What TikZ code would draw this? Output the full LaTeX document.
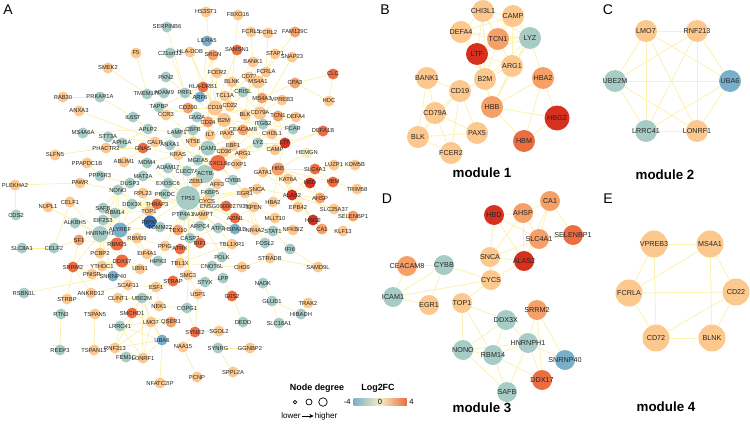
\documentclass[tikz,border=0pt]{standalone}
\usepackage{fontspec}
\setmainfont{Liberation Sans}
\usetikzlibrary{backgrounds,arrows.meta}

\definecolor{upa}{HTML}{FCC88E}
\definecolor{upb}{HTML}{F6A068}
\definecolor{upc}{HTML}{EC6D42}
\definecolor{upd}{HTML}{D8301F}
\definecolor{dna}{HTML}{A6CCC5}
\definecolor{dnb}{HTML}{7AAFCA}
\definecolor{dnc}{HTML}{3368AF}
\definecolor{pale}{HTML}{F4EFC2}
\definecolor{linkcol}{HTML}{F9EFA3}
\definecolor{mlinkcol}{HTML}{FBF3B4}

\begin{document}
\begin{tikzpicture}[x=0.02cm, y=-0.02cm,
    gene/.style = {circle, inner sep=0pt, minimum size=0.22cm},
    mod/.style = {circle, inner sep=0pt, minimum size=0.44cm},
    lab/.style = {inner sep=0pt, text=black!85, font=\fontsize{3.3}{3.5}\selectfont},
    mlab/.style = {inner sep=0pt, text=black!85, font=\fontsize{4.1}{4.5}\selectfont},
    link/.style = {draw=linkcol, line width=0.35pt},
    mlink/.style = {draw=mlinkcol, line width=0.5pt},
    panel/.style = {font=\fontsize{8}{8}\selectfont, inner sep=0pt},
    title/.style = {font=\fontsize{7.6}{8}\selectfont\bfseries, inner sep=0pt}]

    \useasboundingbox (0,0) rectangle (750,423);

    % 1. Panel A - whole network
    \node[panel] (pA) at (8,10) {A};
    \node[gene, fill=dna, label={[lab]center:SERPINB6}] (SERPINB6) at (167,27) {};
    \node[gene, fill=upa, label={[lab]center:HS3ST1}] (HS3ST1) at (206,12) {};
    \node[gene, fill=upa, label={[lab]center:FBXO16}] (FBXO16) at (238,15) {};
    \node[gene, fill=upa, label={[lab]center:FCRL5}] (FCRL5) at (251,32) {};
    \node[gene, fill=upa, label={[lab]center:FCRL2}] (FCRL2) at (268,33) {};
    \node[gene, fill=upb, label={[lab]center:FAM129C}] (FAM129C) at (295,32) {};
    \node[gene, fill=dnb, label={[lab]center:LILRA5}] (LILRA5) at (207,41) {};
    \node[gene, fill=upc, label={[lab]center:SAMSN1}] (SAMSN1) at (237,50) {};
    \node[gene, fill=upa, label={[lab]center:F5}] (F5) at (136,53) {};
    \node[gene, fill=dna, label={[lab]center:C21orf33}] (C21orf33) at (170,53) {};
    \node[gene, fill=upa, label={[lab]center:HLA-DOB}] (HLADOB) at (190,52) {};
    \node[gene, fill=upb, label={[lab]center:SRGN}] (SRGN) at (213,55) {};
    \node[gene, fill=upa, label={[lab]center:STAP1}] (STAP1) at (275,54) {};
    \node[gene, fill=upa, label={[lab]center:SNAP23}] (SNAP23) at (292,57) {};
    \node[gene, fill=upa, label={[lab]center:BANK1}] (BANK1) at (253,62) {};
    \node[gene, fill=upa, label={[lab]center:SMEK2}] (SMEK2) at (108,68) {};
    \node[gene, fill=upa, label={[lab]center:FCER2}] (FCER2) at (217,73) {};
    \node[gene, fill=upa, label={[lab]center:CD72}] (CD72) at (249,77) {};
    \node[gene, fill=upa, label={[lab]center:FCRLA}] (FCRLA) at (266,72) {};
    \node[gene, fill=upc, label={[lab]center:CLC}] (CLC) at (333,74) {};
    \node[gene, fill=dna, label={[lab]center:PKN2}] (PKN2) at (166,77) {};
    \node[gene, fill=upa, label={[lab]center:BLNK}] (BLNK) at (232,82) {};
    \node[gene, fill=upa, minimum size=0.26cm, label={[lab]center:MS4A1}] (MS4A1) at (258,82) {};
    \node[gene, fill=upb, label={[lab]center:CPA3}] (CPA3) at (295,83) {};
    \node[gene, fill=upc, label={[lab]center:HLA-DRB1}] (HLADRB1) at (203,87) {};
    \node[gene, fill=dna, label={[lab]center:PRF1}] (PRF1) at (185,93) {};
    \node[gene, fill=dna, label={[lab]center:TMEM175}] (TMEM175) at (147,94) {};
    \node[gene, fill=dna, label={[lab]center:ADAM9}] (ADAM9) at (164,93) {};
    \node[gene, fill=upa, label={[lab]center:RAB30}] (RAB30) at (63,97) {};
    \node[gene, fill=dna, label={[lab]center:PRKAR1A}] (PRKAR1A) at (100,97) {};
    \node[gene, fill=dnb, label={[lab]center:ARF6}] (ARF6) at (200,97) {};
    \node[gene, fill=dna, label={[lab]center:CRISL}] (CRISL) at (243,92) {};
    \node[gene, fill=upa, label={[lab]center:TCL1A}] (TCL1A) at (225,96) {};
    \node[gene, fill=upb, label={[lab]center:MS4A3}] (MS4A3) at (262,98) {};
    \node[gene, fill=upa, label={[lab]center:VPREB3}] (VPREB3) at (282,100) {};
    \node[gene, fill=upa, label={[lab]center:HDC}] (HDC) at (329,101) {};
    \node[gene, fill=dna, label={[lab]center:TAPBP}] (TAPBP) at (159,107) {};
    \node[gene, fill=upb, label={[lab]center:CD200}] (CD200) at (188,108) {};
    \node[gene, fill=upa, minimum size=0.3cm, label={[lab]center:CD19}] (CD19) at (215,108) {};
    \node[gene, fill=upa, label={[lab]center:CD22}] (CD22) at (230,106) {};
    \node[gene, fill=upa, label={[lab]center:ANXA3}] (ANXA3) at (79,111) {};
    \node[gene, fill=upa, label={[lab]center:CCR3}] (CCR3) at (166,115) {};
    \node[gene, fill=dna, label={[lab]center:IL6ST}] (IL6ST) at (133,117) {};
    \node[gene, fill=upa, label={[lab]center:BLK}] (BLK) at (245,115) {};
    \node[gene, fill=upa, minimum size=0.26cm, label={[lab]center:CD79A}] (CD79A) at (260,113) {};
    \node[gene, fill=upb, label={[lab]center:TCN1}] (TCN1) at (278,116) {};
    \node[gene, fill=upa, label={[lab]center:DEFA4}] (DEFA4) at (296,117) {};
    \node[gene, fill=dna, label={[lab]center:GM2A}] (GM2A) at (197,117) {};
    \node[gene, fill=upb, label={[lab]center:CD24}] (CD24) at (208,122) {};
    \node[gene, fill=upa, minimum size=0.28cm, label={[lab]center:B2M}] (B2M) at (224,120) {};
    \node[gene, fill=dna, label={[lab]center:ITGB2}] (ITGB2) at (263,124) {};
    \node[gene, fill=dna, label={[lab]center:APLP2}] (APLP2) at (148,129) {};
    \node[gene, fill=dna, label={[lab]center:FCAR}] (FCAR) at (293,129) {};
    \node[gene, fill=upc, label={[lab]center:DEFA1B}] (DEFA1B) at (323,131) {};
    \node[gene, fill=dna, label={[lab]center:CBFB}] (CBFB) at (193,130) {};
    \node[gene, fill=upb, label={[lab]center:CEACAM8}] (CEACAM8) at (243,130) {};
    \node[gene, fill=dna, label={[lab]center:MS4A6A}] (MS4A6A) at (83,133) {};
    \node[gene, fill=dna, label={[lab]center:LAMP1}] (LAMP1) at (177,133) {};
    \node[gene, fill=upa, label={[lab]center:IL7}] (IL7) at (210,135) {};
    \node[gene, fill=upa, label={[lab]center:PAX5}] (PAX5) at (227,134) {};
    \node[gene, fill=upa, label={[lab]center:CHI3L1}] (CHI3L1) at (272,134) {};
    \node[gene, fill=dna, label={[lab]center:STT3A}] (STT3A) at (108,137) {};
    \node[gene, fill=dna, label={[lab]center:APH1A}] (APH1A) at (122,143) {};
    \node[gene, fill=upa, label={[lab]center:CALR}] (CALR) at (155,142) {};
    \node[gene, fill=upa, label={[lab]center:NT5E}] (NT5E) at (193,142) {};
    \node[gene, fill=dna, label={[lab]center:ANXA1}] (ANXA1) at (170,145) {};
    \node[gene, fill=upa, label={[lab]center:EBF1}] (EBF1) at (233,146) {};
    \node[gene, fill=dna, label={[lab]center:LYZ}] (LYZ) at (258,143) {};
    \node[gene, fill=upd, label={[lab]center:LTF}] (LTF) at (285,143) {};
    \node[gene, fill=upc, label={[lab]center:GNAS}] (GNAS) at (143,148) {};
    \node[gene, fill=upa, label={[lab]center:PHACTR2}] (PHACTR2) at (106,148) {};
    \node[gene, fill=dna, minimum size=0.3cm, label={[lab]center:ICAM1}] (ICAM1) at (208,148) {};
    \node[gene, fill=upa, label={[lab]center:CD36}] (CD36) at (224,152) {};
    \node[gene, fill=upa, label={[lab]center:CAMP}] (CAMP) at (275,150) {};
    \node[gene, fill=pale, label={[lab]center:HEMGN}] (HEMGN) at (307,153) {};
    \node[gene, fill=upa, label={[lab]center:SLFN5}] (SLFN5) at (55,155) {};
    \node[gene, fill=upa, label={[lab]center:KRAS}] (KRAS) at (178,155) {};
    \node[gene, fill=upa, label={[lab]center:ARG1}] (ARG1) at (243,154) {};
    \node[gene, fill=dna, label={[lab]center:MGEA5}] (MGEA5) at (198,160) {};
    \node[gene, fill=upa, label={[lab]center:ABLIM1}] (ABLIM1) at (124,162) {};
    \node[gene, fill=upa, label={[lab]center:PPAPDC1B}] (PPAPDC1B) at (87,163) {};
    \node[gene, fill=dna, label={[lab]center:MDM4}] (MDM4) at (147,163) {};
    \node[gene, fill=upc, minimum size=0.32cm, label={[lab]center:CXCL8}] (CXCL8) at (218,163) {};
    \node[gene, fill=upa, label={[lab]center:FOXP1}] (FOXP1) at (237,164) {};
    \node[gene, fill=dna, label={[lab]center:ADAM17}] (ADAM17) at (168,168) {};
    \node[gene, fill=upb, minimum size=0.26cm, label={[lab]center:HBB}] (HBB) at (278,169) {};
    \node[gene, fill=upc, label={[lab]center:SLC4A1}] (SLC4A1) at (315,169) {};
    \node[gene, fill=upa, label={[lab]center:LUZP1}] (LUZP1) at (334,165) {};
    \node[gene, fill=upa, label={[lab]center:KDM5B}] (KDM5B) at (355,165) {};
    \node[gene, fill=dna, label={[lab]center:CLEC7A}] (CLEC7A) at (187,171) {};
    \node[gene, fill=upa, label={[lab]center:GATA1}] (GATA1) at (263,172) {};
    \node[gene, fill=dna, minimum size=0.36cm, label={[lab]center:ACTB}] (ACTB) at (205,174) {};
    \node[gene, fill=dna, label={[lab]center:PPP6R3}] (PPP6R3) at (100,176) {};
    \node[gene, fill=dna, label={[lab]center:MAT2A}] (MAT2A) at (143,176) {};
    \node[gene, fill=upa, label={[lab]center:KAT6A}] (KAT6A) at (288,179) {};
    \node[gene, fill=dna, label={[lab]center:CYBB}] (CYBB) at (233,180) {};
    \node[gene, fill=upa, label={[lab]center:ZEB1}] (ZEB1) at (196,182) {};
    \node[gene, fill=upa, label={[lab]center:AFF3}] (AFF3) at (217,184) {};
    \node[gene, fill=upd, label={[lab]center:HBD}] (HBD) at (310,183) {};
    \node[gene, fill=upc, label={[lab]center:HBM}] (HBM) at (333,182) {};
    \node[gene, fill=dna, label={[lab]center:EXOSC6}] (EXOSC6) at (168,183) {};
    \node[gene, fill=upa, label={[lab]center:PAWR}] (PAWR) at (80,183) {};
    \node[gene, fill=dna, label={[lab]center:DUSP3}] (DUSP3) at (130,183) {};
    \node[gene, fill=upa, label={[lab]center:PLEKHA2}] (PLEKHA2) at (15,185) {};
    \node[gene, fill=upa, label={[lab]center:TRIM58}] (TRIM58) at (357,189) {};
    \node[gene, fill=upa, label={[lab]center:SNCA}] (SNCA) at (257,189) {};
    \node[gene, fill=dna, label={[lab]center:NONO}] (NONO) at (118,190) {};
    \node[gene, fill=upa, label={[lab]center:RPL23}] (RPL23) at (143,193) {};
    \node[gene, fill=dna, label={[lab]center:FKBP5}] (FKBP5) at (210,193) {};
    \node[gene, fill=upa, label={[lab]center:EGR1}] (EGR1) at (245,193) {};
    \node[gene, fill=dna, label={[lab]center:PRKDC}] (PRKDC) at (165,194) {};
    \node[gene, fill=upd, label={[lab]center:ALAS2}] (ALAS2) at (292,195) {};
    \node[gene, fill=dna, minimum size=0.48cm, label={[lab]center:TP53}] (TP53) at (188,198) {};
    \node[gene, fill=upb, label={[lab]center:AHSP}] (AHSP) at (320,198) {};
    \node[gene, fill=upa, label={[lab]center:CYCS}] (CYCS) at (207,201) {};
    \node[gene, fill=upa, label={[lab]center:CELF1}] (CELF1) at (70,202) {};
    \node[gene, fill=upa, label={[lab]center:HBA2}] (HBA2) at (273,202) {};
    \node[gene, fill=dna, label={[lab]center:DDX3X}] (DDX3X) at (132,204) {};
    \node[gene, fill=upc, label={[lab]center:THRAP3}] (THRAP3) at (157,204) {};
    \node[gene, fill=upc, label={[lab]center:ENSG00000279359}] (ENSG) at (226,206) {};
    \node[gene, fill=upa, label={[lab]center:SPEN}] (SPEN) at (254,207) {};
    \node[gene, fill=upa, label={[lab]center:EPB42}] (EPB42) at (298,207) {};
    \node[gene, fill=dna, label={[lab]center:SAFB}] (SAFB) at (103,208) {};
    \node[gene, fill=upa, label={[lab]center:NUPL1}] (NUPL1) at (48,207) {};
    \node[gene, fill=upa, label={[lab]center:SLC25A37}] (SLC25A37) at (334,209) {};
    \node[gene, fill=upa, label={[lab]center:TOP1}] (TOP1) at (149,211) {};
    \node[gene, fill=dna, label={[lab]center:RBM14}] (RBM14) at (115,213) {};
    \node[gene, fill=dna, label={[lab]center:PTP4A1}] (PTP4A1) at (183,215) {};
    \node[gene, fill=dna, label={[lab]center:CDS2}] (CDS2) at (16,215) {};
    \node[gene, fill=upa, label={[lab]center:NAMPT}] (NAMPT) at (203,215) {};
    \node[gene, fill=upb, label={[lab]center:SELENBP1}] (SELENBP1) at (353,216) {};
    \node[gene, fill=upc, label={[lab]center:AZIN1}] (AZIN1) at (235,218) {};
    \node[gene, fill=upa, label={[lab]center:MLLT10}] (MLLT10) at (275,218) {};
    \node[gene, fill=dna, label={[lab]center:EIF2S3}] (EIF2S3) at (103,220) {};
    \node[gene, fill=upd, label={[lab]center:HBG2}] (HBG2) at (313,220) {};
    \node[gene, fill=dnc, minimum size=0.26cm, label={[lab]center:RIPK1}] (RIPK1) at (150,222) {};
    \node[gene, fill=dna, label={[lab]center:ALKBH5}] (ALKBH5) at (75,223) {};
    \node[gene, fill=dna, label={[lab]center:ARPC4}] (ARPC4) at (200,226) {};
    \node[gene, fill=dna, label={[lab]center:TOMM22}] (TOMM22) at (160,227) {};
    \node[gene, fill=dna, label={[lab]center:ATF2}] (ATF2) at (218,228) {};
    \node[gene, fill=dnb, label={[lab]center:HSPA1B}] (HSPA1B) at (235,229) {};
    \node[gene, fill=upa, label={[lab]center:NR4A2}] (NR4A2) at (255,230) {};
    \node[gene, fill=upb, label={[lab]center:TEX10}] (TEX10) at (178,230) {};
    \node[gene, fill=dna, label={[lab]center:STAT1}] (STAT1) at (273,231) {};
    \node[gene, fill=upa, label={[lab]center:NFKBIZ}] (NFKBIZ) at (293,230) {};
    \node[gene, fill=upb, label={[lab]center:CA1}] (CA1) at (322,229) {};
    \node[gene, fill=upa, label={[lab]center:KLF13}] (KLF13) at (343,231) {};
    \node[gene, fill=dnb, minimum size=0.3cm, label={[lab]center:ALYREF}] (ALYREF) at (120,230) {};
    \node[gene, fill=dna, minimum size=0.32cm, label={[lab]center:HNRNPH1}] (HNRNPH1) at (100,234) {};
    \node[gene, fill=dna, label={[lab]center:CASP2}] (CASP2) at (190,238) {};
    \node[gene, fill=upa, label={[lab]center:RBM39}] (RBM39) at (137,238) {};
    \node[gene, fill=upb, label={[lab]center:SF1}] (SF1) at (79,240) {};
    \node[gene, fill=upc, label={[lab]center:RIF1}] (RIF1) at (200,243) {};
    \node[gene, fill=upa, label={[lab]center:TBL1XR1}] (TBL1XR1) at (232,244) {};
    \node[gene, fill=dna, label={[lab]center:FOSL2}] (FOSL2) at (265,243) {};
    \node[gene, fill=upc, minimum size=0.26cm, label={[lab]center:RBM25}] (RBM25) at (117,244) {};
    \node[gene, fill=upa, label={[lab]center:PPIG}] (PPIG) at (165,246) {};
    \node[gene, fill=upc, label={[lab]center:ATRX}] (ATRX) at (180,249) {};
    \node[gene, fill=dna, label={[lab]center:IFI6}] (IFI6) at (290,249) {};
    \node[gene, fill=dna, label={[lab]center:SLC8A1}] (SLC8A1) at (22,248) {};
    \node[gene, fill=dna, label={[lab]center:CELF2}] (CELF2) at (54,248) {};
    \node[gene, fill=upa, label={[lab]center:PCBP2}] (PCBP2) at (100,253) {};
    \node[gene, fill=upa, label={[lab]center:EIF4A1}] (EIF4A1) at (147,254) {};
    \node[gene, fill=dna, label={[lab]center:POLK}] (POLK) at (222,257) {};
    \node[gene, fill=upa, label={[lab]center:STRADB}] (STRADB) at (270,258) {};
    \node[gene, fill=dna, label={[lab]center:HIPK3}] (HIPK3) at (158,261) {};
    \node[gene, fill=upc, minimum size=0.26cm, label={[lab]center:DDX17}] (DDX17) at (122,261) {};
    \node[gene, fill=upa, label={[lab]center:TBL1X}] (TBL1X) at (180,263) {};
    \node[gene, fill=upa, label={[lab]center:YTHDC1}] (YTHDC1) at (102,266) {};
    \node[gene, fill=dna, label={[lab]center:CNOT6L}] (CNOT6L) at (212,266) {};
    \node[gene, fill=upa, label={[lab]center:CHD9}] (CHD9) at (242,267) {};
    \node[gene, fill=upc, label={[lab]center:SRRM2}] (SRRM2) at (73,267) {};
    \node[gene, fill=upa, label={[lab]center:SAMD9L}] (SAMD9L) at (318,267) {};
    \node[gene, fill=upa, label={[lab]center:UBN1}] (UBN1) at (140,269) {};
    \node[gene, fill=upa, label={[lab]center:PNISR}] (PNISR) at (92,274) {};
    \node[gene, fill=upa, label={[lab]center:SMC3}] (SMC3) at (188,275) {};
    \node[gene, fill=dnb, label={[lab]center:SNRNP40}] (SNRNP40) at (113,276) {};
    \node[gene, fill=dna, label={[lab]center:LPP}] (LPP) at (223,278) {};
    \node[gene, fill=dna, label={[lab]center:STYX}] (STYX) at (205,282) {};
    \node[gene, fill=upc, label={[lab]center:STRAP}] (STRAP) at (173,281) {};
    \node[gene, fill=dna, label={[lab]center:NADK}] (NADK) at (263,283) {};
    \node[gene, fill=upa, label={[lab]center:SCAF11}] (SCAF11) at (128,285) {};
    \node[gene, fill=upa, label={[lab]center:ESF1}] (ESF1) at (156,287) {};
    \node[gene, fill=dna, label={[lab]center:RSBN1L}] (RSBN1L) at (24,293) {};
    \node[gene, fill=upa, label={[lab]center:ANKRD12}] (ANKRD12) at (91,293) {};
    \node[gene, fill=upa, label={[lab]center:USP1}] (USP1) at (198,294) {};
    \node[gene, fill=upc, label={[lab]center:G0S2}] (G0S2) at (232,296) {};
    \node[gene, fill=upa, label={[lab]center:CLINT1}] (CLINT1) at (118,298) {};
    \node[gene, fill=dna, label={[lab]center:UBE2M}] (UBE2M) at (142,298) {};
    \node[gene, fill=upa, label={[lab]center:STRBP}] (STRBP) at (67,299) {};
    \node[gene, fill=dna, label={[lab]center:GLUD1}] (GLUD1) at (272,301) {};
    \node[gene, fill=upa, label={[lab]center:TRAK2}] (TRAK2) at (308,303) {};
    \node[gene, fill=upa, label={[lab]center:NEK1}] (NEK1) at (159,306) {};
    \node[gene, fill=dna, label={[lab]center:COPG1}] (COPG1) at (187,308) {};
    \node[gene, fill=dna, label={[lab]center:RTN3}] (RTN3) at (61,314) {};
    \node[gene, fill=upa, label={[lab]center:TSPAN5}] (TSPAN5) at (95,314) {};
    \node[gene, fill=upc, label={[lab]center:SMCHD1}] (SMCHD1) at (132,313) {};
    \node[gene, fill=dna, label={[lab]center:HIBADH}] (HIBADH) at (301,314) {};
    \node[gene, fill=upa, label={[lab]center:LMO7}] (LMO7) at (151,322) {};
    \node[gene, fill=upb, label={[lab]center:QSER1}] (QSER1) at (171,322) {};
    \node[gene, fill=dna, label={[lab]center:DEDD}] (DEDD) at (243,322) {};
    \node[gene, fill=dna, label={[lab]center:SLC16A1}] (SLC16A1) at (279,323) {};
    \node[gene, fill=dna, label={[lab]center:LRRC41}] (LRRC41) at (120,326) {};
    \node[gene, fill=upa, label={[lab]center:SGOL2}] (SGOL2) at (219,331) {};
    \node[gene, fill=upc, label={[lab]center:SYNE2}] (SYNE2) at (195,332) {};
    \node[gene, fill=dnb, label={[lab]center:UBA6}] (UBA6) at (162,340) {};
    \node[gene, fill=upa, label={[lab]center:NAA15}] (NAA15) at (183,347) {};
    \node[gene, fill=dna, label={[lab]center:SYNRG}] (SYNRG) at (218,348) {};
    \node[gene, fill=upa, label={[lab]center:GGNBP2}] (GGNBP2) at (250,348) {};
    \node[gene, fill=upa, label={[lab]center:RNF213}] (RNF213) at (115,348) {};
    \node[gene, fill=dna, label={[lab]center:REEP3}] (REEP3) at (60,350) {};
    \node[gene, fill=upa, label={[lab]center:TSPAN13}] (TSPAN13) at (94,350) {};
    \node[gene, fill=dna, label={[lab]center:FEM1C}] (FEM1C) at (126,357) {};
    \node[gene, fill=upa, label={[lab]center:LONRF1}] (LONRF1) at (143,358) {};
    \node[gene, fill=upa, label={[lab]center:SPPL2A}] (SPPL2A) at (233,372) {};
    \node[gene, fill=upa, label={[lab]center:PCNP}] (PCNP) at (197,377) {};
    \node[gene, fill=upa, label={[lab]center:NFATC2IP}] (NFATC2IP) at (160,383) {};

    % 2. Panel A - edges (behind the nodes)
    \begin{scope}[on background layer]
    \draw[link] (CD19) -- (CD79A);
    \draw[link] (CD19) -- (MS4A1);
    \draw[link] (CD19) -- (CD22);
    \draw[link] (CD19) -- (BLK);
    \draw[link] (CD19) -- (PAX5);
    \draw[link] (CD19) -- (BANK1);
    \draw[link] (CD19) -- (FCER2);
    \draw[link] (CD19) -- (CD72);
    \draw[link] (CD19) -- (TCL1A);
    \draw[link] (CD19) -- (CD24);
    \draw[link] (CD19) -- (HLADRB1);
    \draw[link] (CD19) -- (CD200);
    \draw[link] (CD19) -- (HS3ST1);
    \draw[link] (CD19) -- (SAMSN1);
    \draw[link] (CD19) -- (EBF1);
    \draw[link] (CD19) -- (B2M);
    \draw[link] (CD79A) -- (MS4A1);
    \draw[link] (CD79A) -- (BLK);
    \draw[link] (CD79A) -- (BLNK);
    \draw[link] (CD79A) -- (CD22);
    \draw[link] (CD79A) -- (VPREB3);
    \draw[link] (CD79A) -- (PAX5);
    \draw[link] (CD79A) -- (FCRLA);
    \draw[link] (CD79A) -- (SNAP23);
    \draw[link] (MS4A1) -- (CD22);
    \draw[link] (MS4A1) -- (FCRLA);
    \draw[link] (MS4A1) -- (BANK1);
    \draw[link] (MS4A1) -- (FAM129C);
    \draw[link] (MS4A1) -- (STAP1);
    \draw[link] (MS4A1) -- (CRISL);
    \draw[link] (BANK1) -- (BLK);
    \draw[link] (BANK1) -- (FCRL5);
    \draw[link] (FCRL5) -- (FCRL2);
    \draw[link] (FCRL2) -- (FCRLA);
    \draw[link] (FBXO16) -- (CD22);
    \draw[link] (LILRA5) -- (HLADRB1);
    \draw[link] (SRGN) -- (CD24);
    \draw[link] (SRGN) -- (HLADRB1);
    \draw[link] (HLADOB) -- (HLADRB1);
    \draw[link] (HLADOB) -- (CD19);
    \draw[link] (SERPINB6) -- (PRF1);
    \draw[link] (C21orf33) -- (PRF1);
    \draw[link] (F5) -- (TMEM175);
    \draw[link] (PKN2) -- (PRF1);
    \draw[link] (SMEK2) -- (TMEM175);
    \draw[link] (PRF1) -- (HLADRB1);
    \draw[link] (PRF1) -- (ARF6);
    \draw[link] (PRF1) -- (B2M);
    \draw[link] (ADAM9) -- (TAPBP);
    \draw[link] (TMEM175) -- (TAPBP);
    \draw[link] (TAPBP) -- (B2M);
    \draw[link] (TAPBP) -- (HLADRB1);
    \draw[link] (CCR3) -- (CD200);
    \draw[link] (CCR3) -- (ICAM1);
    \draw[link] (IL6ST) -- (APLP2);
    \draw[link] (PRKAR1A) -- (IL6ST);
    \draw[link] (RAB30) -- (PRKAR1A);
    \draw[link] (ANXA3) -- (ANXA1);
    \draw[link] (MS4A6A) -- (APLP2);
    \draw[link] (STT3A) -- (CALR);
    \draw[link] (APH1A) -- (APLP2);
    \draw[link] (APLP2) -- (LAMP1);
    \draw[link] (LAMP1) -- (ICAM1);
    \draw[link] (LAMP1) -- (B2M);
    \draw[link] (CALR) -- (B2M);
    \draw[link] (CALR) -- (GNAS);
    \draw[link] (ANXA1) -- (CXCL8);
    \draw[link] (GM2A) -- (B2M);
    \draw[link] (CBFB) -- (ACTB);
    \draw[link] (NT5E) -- (ICAM1);
    \draw[link] (IL7) -- (ICAM1);
    \draw[link] (CD24) -- (ICAM1);
    \draw[link] (B2M) -- (ICAM1);
    \draw[link] (B2M) -- (HLADRB1);
    \draw[link] (B2M) -- (ITGB2);
    \draw[link] (B2M) -- (LYZ);
    \draw[link] (B2M) -- (LTF);
    \draw[link] (ITGB2) -- (ICAM1);
    \draw[link] (ITGB2) -- (FCAR);
    \draw[link] (ITGB2) -- (CXCL8);
    \draw[link] (FCAR) -- (CEACAM8);
    \draw[link] (CEACAM8) -- (CAMP);
    \draw[link] (CEACAM8) -- (LTF);
    \draw[link] (CEACAM8) -- (DEFA4);
    \draw[link] (DEFA4) -- (TCN1);
    \draw[link] (DEFA4) -- (LTF);
    \draw[link] (DEFA1B) -- (LTF);
    \draw[link] (DEFA1B) -- (CAMP);
    \draw[link] (CLC) -- (CPA3);
    \draw[link] (CLC) -- (HDC);
    \draw[link] (CPA3) -- (HDC);
    \draw[link] (CPA3) -- (MS4A3);
    \draw[link] (MS4A3) -- (CEACAM8);
    \draw[link] (TCN1) -- (LTF);
    \draw[link] (TCN1) -- (CHI3L1);
    \draw[link] (CHI3L1) -- (LTF);
    \draw[link] (CHI3L1) -- (CXCL8);
    \draw[link] (LYZ) -- (LTF);
    \draw[link] (LYZ) -- (CAMP);
    \draw[link] (LYZ) -- (ARG1);
    \draw[link] (LYZ) -- (CXCL8);
    \draw[link] (ARG1) -- (LTF);
    \draw[link] (ARG1) -- (CXCL8);
    \draw[link] (CAMP) -- (LTF);
    \draw[link] (HEMGN) -- (HBB);
    \draw[link] (LTF) -- (HBB);
    \draw[link] (HBB) -- (HBA2);
    \draw[link] (HBB) -- (HBD);
    \draw[link] (HBB) -- (HBM);
    \draw[link] (HBB) -- (ALAS2);
    \draw[link] (HBB) -- (SLC4A1);
    \draw[link] (HBB) -- (GATA1);
    \draw[link] (HBB) -- (AHSP);
    \draw[link] (HBB) -- (EPB42);
    \draw[link] (HBB) -- (HBG2);
    \draw[link] (HBD) -- (ALAS2);
    \draw[link] (HBD) -- (SLC4A1);
    \draw[link] (HBD) -- (AHSP);
    \draw[link] (HBM) -- (SLC4A1);
    \draw[link] (HBM) -- (AHSP);
    \draw[link] (ALAS2) -- (SLC4A1);
    \draw[link] (ALAS2) -- (AHSP);
    \draw[link] (ALAS2) -- (EPB42);
    \draw[link] (ALAS2) -- (SNCA);
    \draw[link] (ALAS2) -- (HBG2);
    \draw[link] (ALAS2) -- (CA1);
    \draw[link] (ALAS2) -- (GATA1);
    \draw[link] (ALAS2) -- (SLC25A37);
    \draw[link] (ALAS2) -- (SELENBP1);
    \draw[link] (ALAS2) -- (HBA2);
    \draw[link] (ALAS2) -- (KAT6A);
    \draw[link] (LUZP1) -- (SLC4A1);
    \draw[link] (KDM5B) -- (SLC4A1);
    \draw[link] (TRIM58) -- (HBM);
    \draw[link] (SLC25A37) -- (SELENBP1);
    \draw[link] (KLF13) -- (CA1);
    \draw[link] (CA1) -- (HBG2);
    \draw[link] (NFKBIZ) -- (STAT1);
    \draw[link] (GATA1) -- (KAT6A);
    \draw[link] (GATA1) -- (SNCA);
    \draw[link] (SNCA) -- (CYCS);
    \draw[link] (MLLT10) -- (SPEN);
    \draw[link] (SPEN) -- (AZIN1);
    \draw[link] (EGR1) -- (CXCL8);
    \draw[link] (EGR1) -- (CYBB);
    \draw[link] (EGR1) -- (FOSL2);
    \draw[link] (EGR1) -- (TP53);
    \draw[link] (EGR1) -- (NR4A2);
    \draw[link] (CYBB) -- (CXCL8);
    \draw[link] (CYBB) -- (ICAM1);
    \draw[link] (FOXP1) -- (CXCL8);
    \draw[link] (EBF1) -- (PAX5);
    \draw[link] (CD36) -- (ICAM1);
    \draw[link] (MGEA5) -- (ACTB);
    \draw[link] (CXCL8) -- (ICAM1);
    \draw[link] (CXCL8) -- (ACTB);
    \draw[link] (CXCL8) -- (TP53);
    \draw[link] (CXCL8) -- (ADAM17);
    \draw[link] (ACTB) -- (TP53);
    \draw[link] (ACTB) -- (ICAM1);
    \draw[link] (ACTB) -- (CLEC7A);
    \draw[link] (ACTB) -- (CYCS);
    \draw[link] (ACTB) -- (ZEB1);
    \draw[link] (ACTB) -- (AFF3);
    \draw[link] (ACTB) -- (FKBP5);
    \draw[link] (ACTB) -- (LAMP1);
    \draw[link] (TP53) -- (CYCS);
    \draw[link] (TP53) -- (FKBP5);
    \draw[link] (TP53) -- (NAMPT);
    \draw[link] (TP53) -- (PTP4A1);
    \draw[link] (TP53) -- (PRKDC);
    \draw[link] (TP53) -- (MDM4);
    \draw[link] (TP53) -- (KRAS);
    \draw[link] (TP53) -- (ADAM17);
    \draw[link] (TP53) -- (EXOSC6);
    \draw[link] (TP53) -- (TOP1);
    \draw[link] (TP53) -- (ATF2);
    \draw[link] (TP53) -- (HSPA1B);
    \draw[link] (TP53) -- (CASP2);
    \draw[link] (TP53) -- (RIF1);
    \draw[link] (TP53) -- (TEX10);
    \draw[link] (TP53) -- (ARPC4);
    \draw[link] (TP53) -- (TBL1XR1);
    \draw[link] (TP53) -- (RIPK1);
    \draw[link] (TP53) -- (DDX3X);
    \draw[link] (TP53) -- (THRAP3);
    \draw[link] (TP53) -- (ATRX);
    \draw[link] (TP53) -- (STAT1);
    \draw[link] (TP53) -- (AZIN1);
    \draw[link] (TP53) -- (ENSG);
    \draw[link] (TP53) -- (SNCA);
    \draw[link] (TP53) -- (ICAM1);
    \draw[link] (TP53) -- (CLEC7A);
    \draw[link] (TP53) -- (HIPK3);
    \draw[link] (TP53) -- (POLK);
    \draw[link] (TP53) -- (SMC3);
    \draw[link] (TP53) -- (SPEN);
    \draw[link] (TP53) -- (MAT2A);
    \draw[link] (KRAS) -- (GNAS);
    \draw[link] (KRAS) -- (MDM4);
    \draw[link] (GNAS) -- (ABLIM1);
    \draw[link] (GNAS) -- (PHACTR2);
    \draw[link] (PHACTR2) -- (SLFN5);
    \draw[link] (PPAPDC1B) -- (PPP6R3);
    \draw[link] (PPP6R3) -- (DUSP3);
    \draw[link] (MDM4) -- (MAT2A);
    \draw[link] (MAT2A) -- (DUSP3);
    \draw[link] (DUSP3) -- (NONO);
    \draw[link] (NONO) -- (SAFB);
    \draw[link] (NONO) -- (RBM14);
    \draw[link] (NONO) -- (DDX3X);
    \draw[link] (NONO) -- (HNRNPH1);
    \draw[link] (NONO) -- (TOP1);
    \draw[link] (NONO) -- (ALYREF);
    \draw[link] (RPL23) -- (TOP1);
    \draw[link] (RPL23) -- (PRKDC);
    \draw[link] (PRKDC) -- (TOP1);
    \draw[link] (PRKDC) -- (DDX3X);
    \draw[link] (THRAP3) -- (DDX3X);
    \draw[link] (THRAP3) -- (TOP1);
    \draw[link] (THRAP3) -- (ALYREF);
    \draw[link] (DDX3X) -- (TOP1);
    \draw[link] (DDX3X) -- (RBM14);
    \draw[link] (DDX3X) -- (HNRNPH1);
    \draw[link] (DDX3X) -- (ALYREF);
    \draw[link] (DDX3X) -- (EIF2S3);
    \draw[link] (TOP1) -- (RBM14);
    \draw[link] (TOP1) -- (ALYREF);
    \draw[link] (TOP1) -- (RIPK1);
    \draw[link] (SAFB) -- (RBM14);
    \draw[link] (SAFB) -- (HNRNPH1);
    \draw[link] (SAFB) -- (ALYREF);
    \draw[link] (RBM14) -- (ALYREF);
    \draw[link] (RBM14) -- (HNRNPH1);
    \draw[link] (EIF2S3) -- (ALYREF);
    \draw[link] (EIF2S3) -- (HNRNPH1);
    \draw[link] (ALKBH5) -- (HNRNPH1);
    \draw[link] (CELF1) -- (HNRNPH1);
    \draw[link] (CELF1) -- (CELF2);
    \draw[link] (NUPL1) -- (HNRNPH1);
    \draw[link] (CDS2) -- (PLEKHA2);
    \draw[link] (PLEKHA2) -- (PAWR);
    \draw[link] (PAWR) -- (NONO);
    \draw[link] (SLC8A1) -- (CELF2);
    \draw[link] (CELF2) -- (SF1);
    \draw[link] (SF1) -- (HNRNPH1);
    \draw[link] (SF1) -- (SRRM2);
    \draw[link] (SF1) -- (RBM25);
    \draw[link] (ALYREF) -- (HNRNPH1);
    \draw[link] (ALYREF) -- (RBM25);
    \draw[link] (ALYREF) -- (RBM39);
    \draw[link] (ALYREF) -- (DDX17);
    \draw[link] (ALYREF) -- (TOMM22);
    \draw[link] (ALYREF) -- (EIF4A1);
    \draw[link] (HNRNPH1) -- (RBM25);
    \draw[link] (HNRNPH1) -- (PCBP2);
    \draw[link] (HNRNPH1) -- (DDX17);
    \draw[link] (HNRNPH1) -- (SRRM2);
    \draw[link] (HNRNPH1) -- (YTHDC1);
    \draw[link] (HNRNPH1) -- (SNRNP40);
    \draw[link] (RBM25) -- (DDX17);
    \draw[link] (RBM25) -- (PCBP2);
    \draw[link] (RBM25) -- (RBM39);
    \draw[link] (RBM39) -- (EIF4A1);
    \draw[link] (RBM39) -- (PPIG);
    \draw[link] (PPIG) -- (ATRX);
    \draw[link] (ATRX) -- (TBL1X);
    \draw[link] (ATRX) -- (SMC3);
    \draw[link] (TEX10) -- (TOMM22);
    \draw[link] (TOMM22) -- (RIPK1);
    \draw[link] (CASP2) -- (RIF1);
    \draw[link] (CASP2) -- (ATF2);
    \draw[link] (RIF1) -- (TBL1XR1);
    \draw[link] (TBL1XR1) -- (TBL1X);
    \draw[link] (TBL1X) -- (CNOT6L);
    \draw[link] (CNOT6L) -- (CHD9);
    \draw[link] (CHD9) -- (STRADB);
    \draw[link] (IFI6) -- (STAT1);
    \draw[link] (IFI6) -- (SAMD9L);
    \draw[link] (FOSL2) -- (STAT1);
    \draw[link] (POLK) -- (TBL1XR1);
    \draw[link] (HIPK3) -- (EIF4A1);
    \draw[link] (DDX17) -- (SRRM2);
    \draw[link] (DDX17) -- (YTHDC1);
    \draw[link] (DDX17) -- (UBN1);
    \draw[link] (DDX17) -- (PNISR);
    \draw[link] (SRRM2) -- (PNISR);
    \draw[link] (SRRM2) -- (SNRNP40);
    \draw[link] (SNRNP40) -- (PNISR);
    \draw[link] (SNRNP40) -- (YTHDC1);
    \draw[link] (SNRNP40) -- (SCAF11);
    \draw[link] (SCAF11) -- (ESF1);
    \draw[link] (SCAF11) -- (ANKRD12);
    \draw[link] (STRAP) -- (ESF1);
    \draw[link] (STRAP) -- (UBE2M);
    \draw[link] (STRAP) -- (SMC3);
    \draw[link] (SMC3) -- (STYX);
    \draw[link] (SMC3) -- (USP1);
    \draw[link] (SMC3) -- (COPG1);
    \draw[link] (STYX) -- (LPP);
    \draw[link] (LPP) -- (G0S2);
    \draw[link] (USP1) -- (SYNE2);
    \draw[link] (G0S2) -- (DEDD);
    \draw[link] (NADK) -- (GLUD1);
    \draw[link] (GLUD1) -- (HIBADH);
    \draw[link] (TRAK2) -- (HIBADH);
    \draw[link] (GLUD1) -- (SLC16A1);
    \draw[link] (UBE2M) -- (CLINT1);
    \draw[link] (UBE2M) -- (NEK1);
    \draw[link] (UBE2M) -- (LRRC41);
    \draw[link] (UBE2M) -- (LMO7);
    \draw[link] (UBE2M) -- (UBA6);
    \draw[link] (UBE2M) -- (RNF213);
    \draw[link] (UBE2M) -- (LONRF1);
    \draw[link] (LMO7) -- (UBA6);
    \draw[link] (LMO7) -- (RNF213);
    \draw[link] (LMO7) -- (LRRC41);
    \draw[link] (LMO7) -- (QSER1);
    \draw[link] (LMO7) -- (LONRF1);
    \draw[link] (LRRC41) -- (UBA6);
    \draw[link] (LRRC41) -- (RNF213);
    \draw[link] (LRRC41) -- (LONRF1);
    \draw[link] (RNF213) -- (UBA6);
    \draw[link] (RNF213) -- (LONRF1);
    \draw[link] (UBA6) -- (LONRF1);
    \draw[link] (UBA6) -- (NFATC2IP);
    \draw[link] (SMCHD1) -- (QSER1);
    \draw[link] (SMCHD1) -- (LMO7);
    \draw[link] (QSER1) -- (COPG1);
    \draw[link] (COPG1) -- (NEK1);
    \draw[link] (COPG1) -- (SYNE2);
    \draw[link] (SGOL2) -- (SYNE2);
    \draw[link] (SYNE2) -- (NAA15);
    \draw[link] (NAA15) -- (PCNP);
    \draw[link] (SYNRG) -- (GGNBP2);
    \draw[link] (SPPL2A) -- (SYNRG);
    \draw[link] (RSBN1L) -- (SNRNP40);
    \draw[link] (STRBP) -- (SRRM2);
    \draw[link] (RTN3) -- (REEP3);
    \draw[link] (TSPAN5) -- (TSPAN13);
    \draw[link] (FEM1C) -- (LONRF1);
    \draw[link] (FEM1C) -- (RNF213);
    \draw[link] (ANKRD12) -- (SRRM2);
    \draw[link] (CLINT1) -- (SCAF11);
    \draw[link] (ESF1) -- (NEK1);
    \draw[link] (HSPA1B) -- (ATF2);
    \draw[link] (NR4A2) -- (FOSL2);
    \draw[link] (AZIN1) -- (ENSG);
    \draw[link] (ENSG) -- (NAMPT);
    \draw[link] (ARPC4) -- (PTP4A1);
    \draw[link] (STRADB) -- (SAMD9L);
    \end{scope}

    % 3. Panel B - module 1
    \node[panel] (pB) at (385,10) {B};
    \node[mod, fill=upa, label={[mlab]center:CHI3L1}] (bCHI3L1) at (483,11) {};
    \node[mod, fill=upa, label={[mlab]center:CAMP}] (bCAMP) at (513,16) {};
    \node[mod, fill=upa, label={[mlab]center:DEFA4}] (bDEFA4) at (461,32) {};
    \node[mod, fill=upb, label={[mlab]center:TCN1}] (bTCN1) at (498,39) {};
    \node[mod, fill=dna, label={[mlab]center:LYZ}] (bLYZ) at (530,38) {};
    \node[mod, fill=upd, label={[mlab]center:LTF}] (bLTF) at (477,54) {};
    \node[mod, fill=upa, label={[mlab]center:ARG1}] (bARG1) at (512,66) {};
    \node[mod, fill=upa, label={[mlab]center:BANK1}] (bBANK1) at (427,78) {};
    \node[mod, fill=upa, label={[mlab]center:B2M}] (bB2M) at (485,79) {};
    \node[mod, fill=upb, label={[mlab]center:HBA2}] (bHBA2) at (543,78) {};
    \node[mod, fill=upa, label={[mlab]center:CD19}] (bCD19) at (460,91) {};
    \node[mod, fill=upb, label={[mlab]center:HBB}] (bHBB) at (492,107) {};
    \node[mod, fill=upa, label={[mlab]center:CD79A}] (bCD79A) at (435,113) {};
    \node[mod, fill=upd, minimum size=0.5cm, label={[mlab]center:HBG2}] (bHBG2) at (557,118) {};
    \node[mod, fill=upa, label={[mlab]center:PAX5}] (bPAX5) at (477,133) {};
    \node[mod, fill=upa, label={[mlab]center:BLK}] (bBLK) at (418,137) {};
    \node[mod, fill=upc, label={[mlab]center:HBM}] (bHBM) at (524,141) {};
    \node[mod, fill=upa, label={[mlab]center:FCER2}] (bFCER2) at (451,153) {};
    \node[title] (t1) at (482,173) {module 1};

    \begin{scope}[on background layer]
    \draw[mlink] (bBANK1) -- (bCD19);
    \draw[mlink] (bBANK1) -- (bCD79A);
    \draw[mlink] (bBANK1) -- (bBLK);
    \draw[mlink] (bCD19) -- (bCD79A);
    \draw[mlink] (bCD19) -- (bBLK);
    \draw[mlink] (bCD19) -- (bPAX5);
    \draw[mlink] (bCD19) -- (bFCER2);
    \draw[mlink] (bCD19) -- (bB2M);
    \draw[mlink] (bCD79A) -- (bBLK);
    \draw[mlink] (bCD79A) -- (bPAX5);
    \draw[mlink] (bCD79A) -- (bFCER2);
    \draw[mlink] (bBLK) -- (bPAX5);
    \draw[mlink] (bBLK) -- (bFCER2);
    \draw[mlink] (bCHI3L1) -- (bCAMP);
    \draw[mlink] (bCHI3L1) -- (bDEFA4);
    \draw[mlink] (bCHI3L1) -- (bTCN1);
    \draw[mlink] (bCHI3L1) -- (bLTF);
    \draw[mlink] (bCHI3L1) -- (bLYZ);
    \draw[mlink] (bCHI3L1) -- (bARG1);
    \draw[mlink] (bCHI3L1) -- (bB2M);
    \draw[mlink] (bCAMP) -- (bDEFA4);
    \draw[mlink] (bCAMP) -- (bTCN1);
    \draw[mlink] (bCAMP) -- (bLYZ);
    \draw[mlink] (bCAMP) -- (bLTF);
    \draw[mlink] (bCAMP) -- (bARG1);
    \draw[mlink] (bDEFA4) -- (bTCN1);
    \draw[mlink] (bDEFA4) -- (bLTF);
    \draw[mlink] (bDEFA4) -- (bLYZ);
    \draw[mlink] (bDEFA4) -- (bB2M);
    \draw[mlink] (bTCN1) -- (bLYZ);
    \draw[mlink] (bTCN1) -- (bLTF);
    \draw[mlink] (bTCN1) -- (bARG1);
    \draw[mlink] (bTCN1) -- (bB2M);
    \draw[mlink] (bLYZ) -- (bLTF);
    \draw[mlink] (bLYZ) -- (bARG1);
    \draw[mlink] (bLYZ) -- (bB2M);
    \draw[mlink] (bLYZ) -- (bHBB);
    \draw[mlink] (bLYZ) -- (bHBA2);
    \draw[mlink] (bLTF) -- (bARG1);
    \draw[mlink] (bLTF) -- (bB2M);
    \draw[mlink] (bLTF) -- (bHBB);
    \draw[mlink] (bARG1) -- (bB2M);
    \draw[mlink] (bARG1) -- (bHBB);
    \draw[mlink] (bB2M) -- (bHBB);
    \draw[mlink] (bHBB) -- (bHBA2);
    \draw[mlink] (bHBB) -- (bHBG2);
    \draw[mlink] (bHBB) -- (bHBM);
    \draw[mlink] (bHBA2) -- (bHBG2);
    \draw[mlink] (bHBA2) -- (bHBM);
    \draw[mlink] (bHBG2) -- (bHBM);
    \end{scope}

    % 4. Panel C - module 2
    \node[panel] (pC) at (608,10) {C};
    \node[mod, fill=upa, label={[mlab]center:LMO7}] (cLMO7) at (646,31) {};
    \node[mod, fill=upa, label={[mlab]center:RNF213}] (cRNF213) at (697,31) {};
    \node[mod, fill=dna, label={[mlab]center:UBE2M}] (cUBE2M) at (615,81) {};
    \node[mod, fill=dnb, label={[mlab]center:UBA6}] (cUBA6) at (730,81) {};
    \node[mod, fill=dna, label={[mlab]center:LRRC41}] (cLRRC41) at (646,131) {};
    \node[mod, fill=upa, label={[mlab]center:LONRF1}] (cLONRF1) at (697,131) {};
    \node[title] (t2) at (665,175) {module 2};

    \begin{scope}[on background layer]
    \draw[mlink] (cLMO7) -- (cRNF213);
    \draw[mlink] (cLMO7) -- (cUBE2M);
    \draw[mlink] (cLMO7) -- (cUBA6);
    \draw[mlink] (cLMO7) -- (cLRRC41);
    \draw[mlink] (cLMO7) -- (cLONRF1);
    \draw[mlink] (cRNF213) -- (cUBE2M);
    \draw[mlink] (cRNF213) -- (cUBA6);
    \draw[mlink] (cRNF213) -- (cLRRC41);
    \draw[mlink] (cRNF213) -- (cLONRF1);
    \draw[mlink] (cUBE2M) -- (cUBA6);
    \draw[mlink] (cUBE2M) -- (cLRRC41);
    \draw[mlink] (cUBE2M) -- (cLONRF1);
    \draw[mlink] (cUBA6) -- (cLRRC41);
    \draw[mlink] (cUBA6) -- (cLONRF1);
    \draw[mlink] (cLRRC41) -- (cLONRF1);
    \end{scope}

    % 5. Panel D - module 3
    \node[panel] (pD) at (387,199) {D};
    \node[mod, fill=upb, minimum size=0.4cm, label={[mlab]center:CA1}] (dCA1) at (550,201) {};
    \node[mod, fill=upd, minimum size=0.4cm, label={[mlab]center:HBD}] (dHBD) at (494,215) {};
    \node[mod, fill=upb, minimum size=0.4cm, label={[mlab]center:AHSP}] (dAHSP) at (523,213) {};
    \node[mod, fill=upc, minimum size=0.4cm, label={[mlab]center:SELENBP1}] (dSELENBP1) at (573,235) {};
    \node[mod, fill=upb, minimum size=0.4cm, label={[mlab]center:SLC4A1}] (dSLC4A1) at (539,239) {};
    \node[mod, fill=upa, minimum size=0.4cm, label={[mlab]center:SNCA}] (dSNCA) at (490,257) {};
    \node[mod, fill=upd, minimum size=0.4cm, label={[mlab]center:ALAS2}] (dALAS2) at (524,261) {};
    \node[mod, fill=upb, minimum size=0.4cm, label={[mlab]center:CEACAM8}] (dCEACAM8) at (407,266) {};
    \node[mod, fill=dna, minimum size=0.4cm, label={[mlab]center:CYBB}] (dCYBB) at (444,265) {};
    \node[mod, fill=upa, minimum size=0.4cm, label={[mlab]center:CYCS}] (dCYCS) at (491,280) {};
    \node[mod, fill=dna, minimum size=0.4cm, label={[mlab]center:ICAM1}] (dICAM1) at (393,297) {};
    \node[mod, fill=upa, minimum size=0.4cm, label={[mlab]center:EGR1}] (dEGR1) at (429,305) {};
    \node[mod, fill=upa, minimum size=0.4cm, label={[mlab]center:TOP1}] (dTOP1) at (462,303) {};
    \node[mod, fill=upb, minimum size=0.4cm, label={[mlab]center:SRRM2}] (dSRRM2) at (537,310) {};
    \node[mod, fill=dna, minimum size=0.4cm, label={[mlab]center:DDX3X}] (dDDX3X) at (506,320) {};
    \node[mod, fill=dna, minimum size=0.4cm, label={[mlab]center:HNRNPH1}] (dHNRNPH1) at (528,343) {};
    \node[mod, fill=dna, minimum size=0.4cm, label={[mlab]center:NONO}] (dNONO) at (463,350) {};
    \node[mod, fill=dna, minimum size=0.4cm, label={[mlab]center:RBM14}] (dRBM14) at (493,355) {};
    \node[mod, fill=dnb, minimum size=0.4cm, label={[mlab]center:SNRNP40}] (dSNRNP40) at (565,360) {};
    \node[mod, fill=upc, minimum size=0.4cm, label={[mlab]center:DDX17}] (dDDX17) at (542,380) {};
    \node[mod, fill=dna, minimum size=0.4cm, label={[mlab]center:SAFB}] (dSAFB) at (507,392) {};
    \node[title] (t3) at (482,408) {module 3};

    \begin{scope}[on background layer]
    \draw[mlink] (dHBD) -- (dAHSP);
    \draw[mlink] (dHBD) -- (dSLC4A1);
    \draw[mlink] (dHBD) -- (dALAS2);
    \draw[mlink] (dHBD) -- (dSNCA);
    \draw[mlink] (dAHSP) -- (dCA1);
    \draw[mlink] (dAHSP) -- (dSLC4A1);
    \draw[mlink] (dAHSP) -- (dALAS2);
    \draw[mlink] (dAHSP) -- (dSNCA);
    \draw[mlink] (dCA1) -- (dSLC4A1);
    \draw[mlink] (dCA1) -- (dALAS2);
    \draw[mlink] (dCA1) -- (dSELENBP1);
    \draw[mlink] (dSLC4A1) -- (dSELENBP1);
    \draw[mlink] (dSLC4A1) -- (dALAS2);
    \draw[mlink] (dSLC4A1) -- (dSNCA);
    \draw[mlink] (dSNCA) -- (dALAS2);
    \draw[mlink] (dSNCA) -- (dCYCS);
    \draw[mlink] (dALAS2) -- (dCYCS);
    \draw[mlink] (dCYCS) -- (dCYBB);
    \draw[mlink] (dCYCS) -- (dICAM1);
    \draw[mlink] (dCYCS) -- (dTOP1);
    \draw[mlink] (dCEACAM8) -- (dCYBB);
    \draw[mlink] (dCEACAM8) -- (dICAM1);
    \draw[mlink] (dCYBB) -- (dICAM1);
    \draw[mlink] (dCYBB) -- (dEGR1);
    \draw[mlink] (dICAM1) -- (dEGR1);
    \draw[mlink] (dTOP1) -- (dDDX3X);
    \draw[mlink] (dTOP1) -- (dNONO);
    \draw[mlink] (dTOP1) -- (dRBM14);
    \draw[mlink] (dDDX3X) -- (dNONO);
    \draw[mlink] (dDDX3X) -- (dRBM14);
    \draw[mlink] (dDDX3X) -- (dHNRNPH1);
    \draw[mlink] (dNONO) -- (dRBM14);
    \draw[mlink] (dNONO) -- (dHNRNPH1);
    \draw[mlink] (dNONO) -- (dSAFB);
    \draw[mlink] (dRBM14) -- (dHNRNPH1);
    \draw[mlink] (dRBM14) -- (dSAFB);
    \draw[mlink] (dRBM14) -- (dDDX17);
    \draw[mlink] (dHNRNPH1) -- (dSRRM2);
    \draw[mlink] (dHNRNPH1) -- (dSNRNP40);
    \draw[mlink] (dHNRNPH1) -- (dDDX17);
    \draw[mlink] (dHNRNPH1) -- (dSAFB);
    \draw[mlink] (dSRRM2) -- (dDDX17);
    \draw[mlink] (dSRRM2) -- (dSNRNP40);
    \end{scope}

    % 6. Panel E - module 4
    \node[panel] (pE) at (608,199) {E};
    \node[mod, fill=upa, minimum size=0.54cm, label={[mlab]center:VPREB3}] (eVPREB3) at (654,244) {};
    \node[mod, fill=upa, minimum size=0.54cm, label={[mlab]center:MS4A1}] (eMS4A1) at (710,244) {};
    \node[mod, fill=upa, minimum size=0.54cm, label={[mlab]center:FCRLA}] (eFCRLA) at (629,293) {};
    \node[mod, fill=upa, minimum size=0.54cm, label={[mlab]center:CD22}] (eCD22) at (736,292) {};
    \node[mod, fill=upa, minimum size=0.54cm, label={[mlab]center:CD72}] (eCD72) at (656,338) {};
    \node[mod, fill=upa, minimum size=0.54cm, label={[mlab]center:BLNK}] (eBLNK) at (712,338) {};
    \node[title] (t4) at (666,407) {module 4};

    \begin{scope}[on background layer]
    \draw[mlink] (eVPREB3) -- (eMS4A1);
    \draw[mlink] (eVPREB3) -- (eFCRLA);
    \draw[mlink] (eVPREB3) -- (eCD72);
    \draw[mlink] (eMS4A1) -- (eFCRLA);
    \draw[mlink] (eMS4A1) -- (eCD22);
    \draw[mlink] (eMS4A1) -- (eBLNK);
    \draw[mlink] (eFCRLA) -- (eCD22);
    \draw[mlink] (eFCRLA) -- (eCD72);
    \draw[mlink] (eCD22) -- (eCD72);
    \draw[mlink] (eCD22) -- (eBLNK);
    \draw[mlink] (eCD72) -- (eBLNK);
    \end{scope}

    % 7. Legends
    \node[font=\fontsize{5.1}{6}\selectfont\bfseries, inner sep=0pt] (degtitle) at (317,388) {Node degree};
    \node[circle, draw, line width=0.4pt, inner sep=0pt, minimum size=0.07cm] (deg1) at (295,402) {};
    \node[circle, draw, line width=0.4pt, inner sep=0pt, minimum size=0.12cm] (deg2) at (309,402) {};
    \node[circle, draw, line width=0.4pt, inner sep=0pt, minimum size=0.17cm] (deg3) at (323,402) {};
    \node[font=\fontsize{4.6}{5}\selectfont, inner sep=0.5pt] (lower) at (291,416) {lower};
    \node[font=\fontsize{4.6}{5}\selectfont, inner sep=0.5pt] (higher) at (326,416) {higher};
    \draw[-{Stealth[length=2.4pt, width=2.4pt]}, line width=0.5pt] (lower) -- (higher);
    \node[font=\fontsize{5.1}{6}\selectfont\bfseries, inner sep=0pt] (fctitle) at (378,388) {Log2FC};
    \node[inner sep=0pt, minimum width=1.06cm, minimum height=0.15cm, left color=dnb, right color=upc, middle color=pale] (bar) at (380,402) {};
    \node[font=\fontsize{4.3}{5}\selectfont, inner sep=0pt, anchor=east] (lo) at (351,402) {-4};
    \node[font=\fontsize{4.3}{5}\selectfont, inner sep=0pt] (mid) at (380,402) {0};
    \node[font=\fontsize{4.3}{5}\selectfont, inner sep=0pt, anchor=west] (hi) at (409,402) {4};
\end{tikzpicture}
\end{document}
